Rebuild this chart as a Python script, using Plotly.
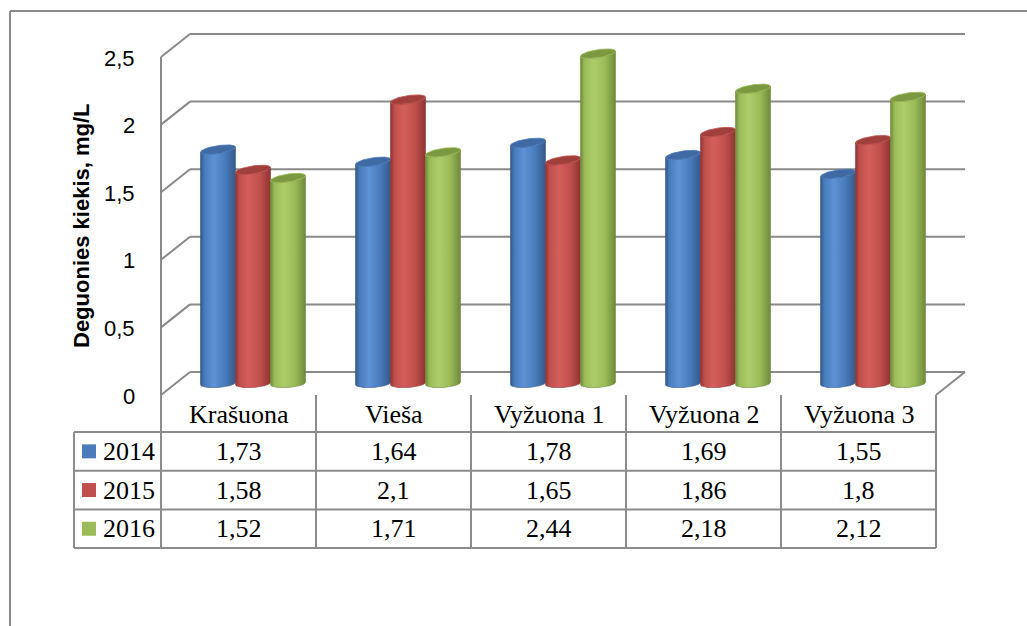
import numpy as np
import plotly.graph_objects as go

# ---- data -------------------------------------------------------------
categories = ["Krašuona", "Vieša", "Vyžuona 1", "Vyžuona 2", "Vyžuona 3"]
years = ["2014", "2015", "2016"]
values_2014 = [1.73, 1.64, 1.78, 1.69, 1.55]
values_2015 = [1.58, 2.1, 1.65, 1.86, 1.8]
values_2016 = [1.52, 1.71, 2.44, 2.18, 2.12]
y_ticks = [0, 0.5, 1, 1.5, 2, 2.5]
y_tick_labels = ["0", "0,5", "1", "1,5", "2", "2,5"]
y_title = "Deguonies kiekis, mg/L"

series = [values_2014, values_2015, values_2016]

# ---- styling ----------------------------------------------------------
# (edge, highlight, body, cap) per series
palette = [
    dict(edge="#34598a", light="#5d92d6", mid="#4a7cbc", cap="#3f6aa3"),
    dict(edge="#8e3432", light="#d45f5b", mid="#c0504d", cap="#a13f3c"),
    dict(edge="#6f8a3a", light="#aecd6a", mid="#9bbb59", cap="#7c9840"),
]
GRID = "#8a8a8a"
TABLE_LINE = "#8c8c8c"

# ---- geometry ---------------------------------------------------------
W, H = 1027, 626
PX_PER_CAT = 155.0          # pixels per category on the front plane
PX_PER_VAL = 135.2          # pixels per unit of value
LEFT_PX = 161.0             # pixel position of the front-left wall edge
ZERO_PX = 395.0             # pixel position of value 0 on the front plane

x_range = [-0.5 - LEFT_PX / PX_PER_CAT, -0.5 + (W - LEFT_PX) / PX_PER_CAT]
y_range = [-(H - ZERO_PX) / PX_PER_VAL, ZERO_PX / PX_PER_VAL]

DX = 29 / PX_PER_CAT        # depth offset of the back wall
DY = 23 / PX_PER_VAL
BAR_W = 35 / PX_PER_CAT     # cylinder diameter
RY = 4.0 / PX_PER_VAL       # ellipse half height
TILT_TOP = 2.5 / PX_PER_VAL
TILT_BOT = 1.2 / PX_PER_VAL
DEPTH = 0.5                 # cylinders stand half way into the floor

n_cat = len(categories)
x_left, x_right = -0.5, n_cat - 0.5

fig = go.Figure()

# ---- walls, floor and gridlines ----------------------------------------
shapes = []


def seg(x0, y0, x1, y1, color=GRID, width=2, xref="x", yref="y"):
    shapes.append(dict(type="line", x0=x0, y0=y0, x1=x1, y1=y1, xref=xref, yref=yref,
                       line=dict(color=color, width=width), layer="below"))


for v in y_ticks:
    seg(x_left + DX, v + DY, x_right + DX, v + DY)   # back wall
    seg(x_left, v, x_left + DX, v + DY)              # side wall
seg(x_left, 0, x_left, y_ticks[-1])                  # front left edge
seg(x_right, 0, x_right + DX, DY)                    # floor right edge

# outer chart frame
seg(10 / W, 1 - 11 / H, 10 / W, -0.1, xref="paper", yref="paper")
seg(10 / W, 1 - 11 / H, 1.1, 1 - 11 / H, xref="paper", yref="paper")

# ---- cylinders ----------------------------------------------------------
t_front = np.linspace(np.pi, 2 * np.pi, 40)
t_full = np.linspace(0, 2 * np.pi, 80)
base = DEPTH * DY

for s, vals in enumerate(series):
    col = palette[s]
    for c, v in enumerate(vals):
        xc = c + DEPTH * DX + (s - 1) * BAR_W
        rx = BAR_W / 2
        top = base + v
        # body: front arc of the top, down the right side, front arc of the bottom
        xt = xc + rx * np.cos(t_front)
        yt = top + RY * np.sin(t_front) + TILT_TOP * np.cos(t_front)
        tb = t_front[::-1]
        xb = xc + rx * np.cos(tb)
        yb = base + RY * np.sin(tb) + TILT_BOT * np.cos(tb)
        bx = np.concatenate([xt, xb, xt[:1]])
        by = np.concatenate([yt, yb, yt[:1]])
        fig.add_trace(go.Scatter(
            x=bx, y=by, mode="lines", fill="toself",
            line=dict(color=col["edge"], width=0.6),
            fillgradient=dict(type="horizontal", colorscale=[
                [0.0, col["edge"]], [0.12, col["mid"]], [0.38, col["light"]],
                [0.7, col["mid"]], [1.0, col["edge"]]]),
            hoverinfo="skip", showlegend=False))
        # cap
        cx = xc + rx * np.cos(t_full)
        cy = top + RY * np.sin(t_full) + TILT_TOP * np.cos(t_full)
        fig.add_trace(go.Scatter(
            x=cx, y=cy, mode="lines", fill="toself",
            fillcolor=col["cap"], line=dict(color=col["mid"], width=0.8),
            hovertemplate=f"{years[s]} – {categories[c]}: {str(v).replace('.', ',')}<extra></extra>",
            showlegend=False))

# ---- axis labels ---------------------------------------------------------
annotations = []
for v, lab in zip(y_ticks, y_tick_labels):
    annotations.append(dict(x=x_left, y=v, xref="x", yref="y", text=lab,
                            xanchor="right", yanchor="middle", xshift=-24, yshift=-1,
                            showarrow=False,
                            font=dict(family="Liberation Sans", size=22, color="#000000")))
annotations.append(dict(x=x_left, y=(y_ticks[0] + y_ticks[-1]) / 2, xref="x", yref="y",
                        text=f"<b>{y_title}</b>", textangle=-90, xshift=-80,
                        xanchor="center", yanchor="middle", showarrow=False,
                        font=dict(family="Liberation Sans", size=22, color="#000000")))

# ---- data table ------------------------------------------------------------
HEAD_H = 37 / PX_PER_VAL
ROW_H = 38.7 / PX_PER_VAL
LEG_LEFT = x_left - 87 / PX_PER_CAT
table_font = dict(family="Liberation Serif", size=26, color="#000000")

row_tops = [-HEAD_H - i * ROW_H for i in range(len(years) + 1)]
table_bottom = row_tops[-1]

seg(x_left, -HEAD_H, x_right, -HEAD_H, color=TABLE_LINE)
for yv in row_tops:
    seg(LEG_LEFT, yv, x_right, yv, color=TABLE_LINE)
seg(LEG_LEFT, -HEAD_H, LEG_LEFT, table_bottom, color=TABLE_LINE)
for c in range(n_cat + 1):
    seg(c - 0.5, 0, c - 0.5, table_bottom, color=TABLE_LINE)

for c, name in enumerate(categories):
    annotations.append(dict(x=c, y=-HEAD_H / 2, xref="x", yref="y", text=name,
                            showarrow=False, xanchor="center", yanchor="middle",
                            yshift=-1, font=table_font))

for s, vals in enumerate(series):
    yc = -HEAD_H - (s + 0.5) * ROW_H
    for c, v in enumerate(vals):
        annotations.append(dict(x=c, y=yc, xref="x", yref="y",
                                text=str(v).replace(".", ","), showarrow=False,
                                xanchor="center", yanchor="middle", font=table_font))
    # legend key and year label
    kx0 = LEG_LEFT + 8 / PX_PER_CAT
    k = 14
    shapes.append(dict(type="rect", xref="x", yref="y",
                       x0=kx0, x1=kx0 + k / PX_PER_CAT,
                       y0=yc - k / 2 / PX_PER_VAL, y1=yc + k / 2 / PX_PER_VAL,
                       fillcolor=palette[s]["mid"], line=dict(width=0)))
    annotations.append(dict(x=kx0 + (k + 5) / PX_PER_CAT, y=yc, xref="x", yref="y",
                            text=years[s], showarrow=False, xanchor="left",
                            yanchor="middle", font=table_font))

fig.update_layout(
    width=W, height=H,
    margin=dict(l=0, r=0, t=0, b=0),
    paper_bgcolor="#ffffff", plot_bgcolor="#ffffff",
    xaxis=dict(range=x_range, visible=False, fixedrange=True),
    yaxis=dict(range=y_range, visible=False, fixedrange=True),
    shapes=shapes, annotations=annotations,
    showlegend=False,
)

fig.write_html("out.html")
